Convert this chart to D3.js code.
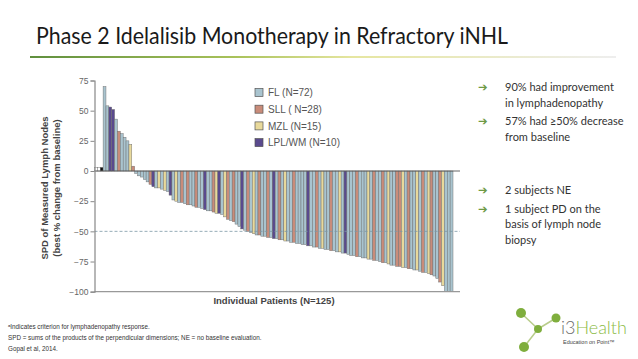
<!DOCTYPE html>
<html>
<head>
<meta charset="utf-8">
<script src="https://cdn.jsdelivr.net/npm/d3@7"></script>
<style>
  html, body { margin: 0; padding: 0; background: #fff; }
  svg { display: block; }
</style>
</head>
<body>
<svg id="chart" width="638" height="359"></svg>
<script>
// ---------- DATA ----------
const title = "Phase 2 Idelalisib Monotherapy in Refractory iNHL";
const categories = ["FL", "SLL", "MZL", "LPL/WM"];
const legendLabels = ["FL (N=72)", "SLL ( N=28)", "MZL (N=15)", "LPL/WM (N=10)"];
const yTicks = [-100, -75, -50, -25, 0, 25, 50, 75];
const responseThreshold = -50;
// per-patient histology (F=FL, S=SLL, M=MZL, L=LPL/WM, NE=no baseline, PD=progression)
const patientTypes = (
  "NE NE PD " +
  "F F L L F S F F F M S " +
  "F F F F F S L F M F " +
  "M F L F M F S F S F " +
  "F S F F L F F S M L " +
  "F M S F S F F L F S " +
  "F M F S F F S F L F " +
  "S F M F F S F F F F " +
  "L F F S F M F F S F " +
  "F M F L F F F S F F " +
  "F M F S F F S F M F " +
  "F S S M F S F F M F " +
  "S F M S F F S M F F F").trim().split(/\s+/);
// best % change in SPD per patient
const patientValues = [
  3, 3, 3,
  70, 54, 53, 51, 43, 33, 31, 28, 25, 22, 4,
  -2, -4, -5, -7, -9, -11, -13, -14, -14, -15,
  -16, -17, -20, -24, -25, -26, -26, -27, -28, -28,
  -29, -30, -30, -31, -32, -33, -33, -34, -35, -35,
  -36, -38, -40, -41, -42, -44, -46, -48, -49, -50,
  -51, -52, -53, -53, -54, -54, -55, -55, -56, -56,
  -57, -57, -58, -58, -59, -59, -60, -60, -61, -61,
  -62, -62, -63, -63, -64, -64, -65, -65, -66, -66,
  -67, -67, -68, -68, -69, -70, -70, -71, -71, -72,
  -72, -73, -73, -74, -74, -75, -76, -76, -77, -78,
  -78, -79, -79, -80, -80, -81, -81, -82, -82, -83,
  -84, -84, -85, -86, -87, -89, -92, -95, -100, -100, -100
];
const bullets1 = [["90% had improvement", "in lymphadenopathy"], ["57% had \u226550% decrease", "from baseline"]];
const bullets2 = [["2 subjects NE"], ["1 subject PD on the", "basis of lymph node", "biopsy"]];
const footnotes = [
  "\u1d43Indicates criterion for lymphadenopathy response.",
  "SPD = sums of the products of the perpendicular dimensions; NE = no baseline evaluation.",
  "Gopal et al, 2014."
];

// ---------- STYLE ----------
const colors = { F: "#a9c4cf", S: "#c98c7a", M: "#e8d99b", L: "#5a4a8e", NE: "#ffffff", PD: "#111111" };
const legendKeys = ["F", "S", "M", "L"];

const svg = d3.select("#chart");

// Title
svg.append("text").attr("x", 36).attr("y", 44)
  .attr("font-family", "Lato, 'Open Sans', sans-serif").attr("font-size", 23)
  .attr("textLength", 472).attr("lengthAdjust", "spacingAndGlyphs")
  .attr("fill", "#1a1a1a").text(title);

const grad = svg.append("defs").append("linearGradient").attr("id", "ul");
grad.append("stop").attr("offset", "0%").attr("stop-color", "#5f8f3e");
grad.append("stop").attr("offset", "35%").attr("stop-color", "#a9c25a");
grad.append("stop").attr("offset", "55%").attr("stop-color", "#e6e6a0");
grad.append("stop").attr("offset", "100%").attr("stop-color", "#eeeeee");
svg.append("rect").attr("x", 30).attr("y", 56).attr("width", 586).attr("height", 2).attr("fill", "url(#ul)");

// Chart scales
const idx = d3.range(patientValues.length);
const x = d3.scaleBand().domain(idx).range([94.5, 453]).padding(0);
const y = d3.scaleLinear().domain([-100, 75]).range([291.7, 80.5]);
const xEnd = 460;

const g = svg.append("g");

// bars
g.selectAll("rect.bar").data(idx).join("rect")
  .attr("class", "bar")
  .attr("x", i => x(i))
  .attr("width", x.bandwidth())
  .attr("y", i => y(Math.max(0, patientValues[i])))
  .attr("height", i => Math.abs(y(patientValues[i]) - y(0)))
  .attr("fill", i => colors[patientTypes[i]])
  .attr("stroke", "#6b6b6b").attr("stroke-width", 0.45);

// zero line & bottom line
g.append("line").attr("x1", 94.5).attr("x2", xEnd).attr("y1", y(0)).attr("y2", y(0))
  .attr("stroke", "#555").attr("stroke-width", 0.9);
g.append("line").attr("x1", 94.5).attr("x2", xEnd).attr("y1", y(-100)).attr("y2", y(-100))
  .attr("stroke", "#999").attr("stroke-width", 1.2);
// threshold dashed line
g.append("line").attr("x1", 94.5).attr("x2", xEnd).attr("y1", y(responseThreshold)).attr("y2", y(responseThreshold))
  .attr("stroke", "#7c98a6").attr("stroke-width", 0.8).attr("stroke-dasharray", "3,2");

// y axis
const yAxis = d3.axisLeft(y).tickValues(yTicks).tickSize(4).tickPadding(2);
const ya = g.append("g").attr("transform", "translate(94.5,0)").call(yAxis);
ya.select(".domain").attr("stroke", "#888").attr("stroke-width", 1.2);
ya.selectAll(".tick line").attr("stroke", "#888");
ya.selectAll(".tick text").attr("font-family", "'Liberation Sans', Arial, sans-serif")
  .attr("font-size", 8.5).attr("fill", "#666");

// axis titles
const yt = svg.append("text")
  .attr("font-family", "'Liberation Sans', Arial, sans-serif").attr("font-weight", "bold")
  .attr("font-size", 9.5).attr("fill", "#444").attr("text-anchor", "middle");
yt.append("tspan").attr("x", 0).attr("y", 0).text("SPD of Measured Lymph Nodes");
yt.append("tspan").attr("x", 0).attr("y", 12).text("(best % change from baseline)");
yt.attr("transform", "translate(48,188) rotate(-90)");

svg.append("text").attr("x", 274).attr("y", 304).attr("text-anchor", "middle")
  .attr("font-family", "'Liberation Sans', Arial, sans-serif").attr("font-weight", "bold")
  .attr("font-size", 9.5).attr("fill", "#444").text("Individual Patients (N=125)");

// legend
const lg = svg.append("g");
legendKeys.forEach((k, i) => {
  const yy = 88.5 + i * 16.7;
  lg.append("rect").attr("x", 255).attr("y", yy).attr("width", 8).attr("height", 8)
    .attr("fill", colors[k]).attr("stroke", "#555").attr("stroke-width", 0.7);
  lg.append("text").attr("x", 268).attr("y", yy + 7.8)
    .attr("font-family", "'Liberation Sans', Arial, sans-serif").attr("font-size", 10)
    .attr("fill", "#555").text(legendLabels[i]);
});

// right bullets
function drawBullets(list, startY) {
  let yy = startY;
  list.forEach(lines => {
    svg.append("text").attr("x", 478).attr("y", yy).attr("font-size", 11.5)
      .attr("font-family", "'DejaVu Sans', sans-serif").attr("fill", "#6e9a45").text("\u2794");
    lines.forEach((ln, j) => {
      svg.append("text").attr("x", 505).attr("y", yy + j * 15.5)
        .attr("font-family", "Lato, 'Open Sans', sans-serif").attr("font-size", 11)
        .attr("fill", "#333").text(ln);
    });
    yy += lines.length * 15.5 + 3;
  });
}
drawBullets(bullets1, 91);
drawBullets(bullets2, 194);

// footnotes
footnotes.forEach((t, i) => {
  svg.append("text").attr("x", 8).attr("y", 329 + i * 11)
    .attr("font-family", "'Liberation Sans', Arial, sans-serif").attr("font-size", 6.3)
    .attr("fill", "#333").text(t);
});

// logo
const logo = svg.append("g");
const nodes = [[521, 313, 5], [538, 329, 4], [556, 318, 4.5], [524, 347, 5]];
[[0, 1], [1, 2], [1, 3]].forEach(([a, b]) => {
  logo.append("line").attr("x1", nodes[a][0]).attr("y1", nodes[a][1])
    .attr("x2", nodes[b][0]).attr("y2", nodes[b][1]).attr("stroke", "#b8cc8a").attr("stroke-width", 1.5);
});
nodes.forEach(n => logo.append("circle").attr("cx", n[0]).attr("cy", n[1]).attr("r", n[2]).attr("fill", "#7fae3d"));
const lt = logo.append("text").attr("x", 561).attr("y", 334)
  .attr("font-family", "Lato, 'Open Sans', sans-serif").attr("font-weight", 300).attr("font-size", 18);
lt.append("tspan").attr("fill", "#6b6b6b").text("i3");
lt.append("tspan").attr("fill", "#8cbb45").text("Health");
logo.append("text").attr("x", 563).attr("y", 344).attr("font-family", "'Liberation Sans', Arial, sans-serif")
  .attr("font-size", 5.5).attr("fill", "#444").text("Education on Point\u2122");
</script>
</body>
</html>
